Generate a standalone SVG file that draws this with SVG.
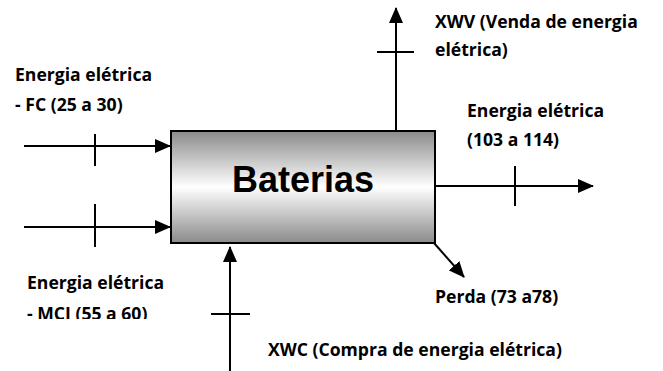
<svg xmlns="http://www.w3.org/2000/svg" width="663" height="371" viewBox="0 0 663 371">
<style>
.ln{stroke:#000;stroke-width:2;fill:none}
.lbl{font-family:"Open Sans","Noto Sans","Liberation Sans",sans-serif;font-weight:bold;font-size:17.6px;fill:#000}
.title{font-family:"Liberation Sans",Arial,sans-serif;font-weight:bold;font-size:36px;fill:#000}
</style>
<defs>
<linearGradient id="g" x1="0" y1="0" x2="0" y2="1">
<stop offset="0" stop-color="#8a8a8a"/>
<stop offset="0.5" stop-color="#ffffff"/>
<stop offset="1" stop-color="#8a8a8a"/>
</linearGradient>
<marker id="ah" viewBox="0 0 16 14" refX="15" refY="7" markerWidth="16" markerHeight="14" markerUnits="userSpaceOnUse" orient="auto">
<path d="M0,0 L16,7 L0,14 Z" fill="#000"/>
</marker>
<clipPath id="clipMCI"><rect x="0" y="260" width="200" height="59"/></clipPath>
</defs>
<g id="connectors">
<line class="ln" x1="24" y1="146" x2="170" y2="146" marker-end="url(#ah)"/>
<line class="ln" x1="95" y1="134" x2="95" y2="166"/>
<line class="ln" x1="24" y1="227" x2="170" y2="227" marker-end="url(#ah)"/>
<line class="ln" x1="95" y1="204" x2="95" y2="247"/>
<line class="ln" x1="435" y1="186" x2="593" y2="186" marker-end="url(#ah)"/>
<line class="ln" x1="515" y1="166" x2="515" y2="206"/>
<line class="ln" x1="396" y1="131" x2="396" y2="8" marker-end="url(#ah)"/>
<line class="ln" x1="377" y1="52" x2="414" y2="52"/>
<line class="ln" x1="230" y1="371" x2="230" y2="247" marker-end="url(#ah)"/>
<line class="ln" x1="211" y1="314" x2="250" y2="314"/>
<line class="ln" x1="434" y1="243" x2="464" y2="277" marker-end="url(#ah)"/>
</g>
<g id="baterias">
<rect x="171" y="131" width="264" height="112" fill="url(#g)" stroke="#000" stroke-width="2"/>
<text class="title" x="303" y="192" text-anchor="middle">Baterias</text>
</g>
<g id="label-fc">
<text class="lbl" x="15" y="81">Energia elétrica</text>
<text class="lbl" x="15" y="111">- FC (25 a 30)</text>
</g>
<g id="label-mci" clip-path="url(#clipMCI)">
<text class="lbl" x="27" y="289">Energia elétrica</text>
<text class="lbl" x="27" y="320">- MCI (55 a 60)</text>
</g>
<g id="label-xwv">
<text class="lbl" x="435" y="28">XWV (Venda de energia</text>
<text class="lbl" x="435" y="56">elétrica)</text>
</g>
<g id="label-out">
<text class="lbl" x="467" y="117">Energia elétrica</text>
<text class="lbl" x="467" y="146">(103 a 114)</text>
</g>
<g id="label-perda">
<text class="lbl" x="435" y="303">Perda (73 a78)</text>
</g>
<g id="label-xwc">
<text class="lbl" x="268" y="356">XWC (Compra de energia elétrica)</text>
</g>
</svg>
